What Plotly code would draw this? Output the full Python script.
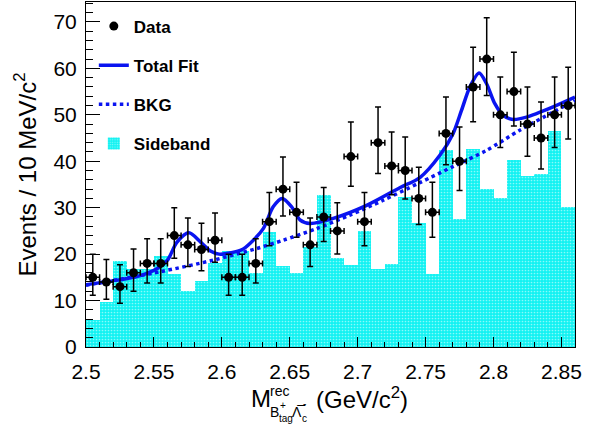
import numpy as np
import plotly.graph_objects as go

# ---------------- data ----------------
bin_centers = [2.505, 2.515, 2.525, 2.535, 2.545, 2.555, 2.565, 2.575, 2.585, 2.595,
               2.605, 2.615, 2.625, 2.635, 2.645, 2.655, 2.665, 2.675, 2.685, 2.695,
               2.705, 2.715, 2.725, 2.735, 2.745, 2.755, 2.765, 2.775, 2.785, 2.795,
               2.805, 2.815, 2.825, 2.835, 2.845, 2.855]
data_counts = [15, 14, 13, 16, 18, 18, 24, 22, 21, 23, 15, 15, 18, 27, 34, 29, 22, 28,
               25, 41, 27, 44, 39, 38, 32, 29, 46, 40, 56, 62, 50, 55, 48, 45, 50, 52]
sideband = [5.9, 9.7, 18.5, 16.7, 16.7, 19.7, 15.7, 12.1, 14.2, 18.0, 20.6, 20.6,
            16.0, 24.8, 17.4, 16.0, 21.5, 32.7, 19.2, 17.7, 24.9, 16.9, 17.9, 32.2,
            26.6, 15.8, 42.5, 27.6, 42.7, 34.0, 32.0, 40.2, 36.8, 37.2, 46.5, 30.2]

fit_x = [2.500, 2.523, 2.538, 2.5525, 2.560, 2.567, 2.5758, 2.5844, 2.592, 2.598,
         2.607, 2.615, 2.6207, 2.6305, 2.6378, 2.6444, 2.6514, 2.6575, 2.665, 2.682,
         2.7066, 2.731, 2.7458, 2.7605, 2.7703, 2.7765, 2.7826, 2.7894, 2.7949, 2.801,
         2.8071, 2.8144, 2.8243, 2.8439, 2.860]
fit_y = [13.4, 14.4, 15.2, 16.9, 18.7, 22.6, 24.6, 22.6, 20.6, 20.0,
         20.3, 21.0, 22.3, 25.5, 30.2, 32.0, 30.2, 27.4, 26.6, 27.7,
         30.5, 34.3, 36.5, 41.3, 46.0, 51.0, 56.0, 59.0, 56.7, 52.4,
         49.9, 49.0, 49.5, 51.7, 53.8]

bkg_x = [2.500, 2.5545, 2.5937, 2.6256, 2.6452, 2.6698, 2.6943, 2.7188, 2.7458,
         2.7705, 2.7946, 2.8194, 2.8439, 2.860]
bkg_y = [13.3, 16.2, 18.7, 21.2, 23.0, 25.5, 28.4, 31.6, 35.4,
         38.9, 42.3, 46.7, 50.6, 53.1]

x_tickvals = [2.5, 2.55, 2.6, 2.65, 2.7, 2.75, 2.8, 2.85]
x_ticktext = ["2.5", "2.55", "2.6", "2.65", "2.7", "2.75", "2.8", "2.85"]
y_tickvals = [0, 10, 20, 30, 40, 50, 60, 70]

# Poisson (approximate Garwood) error bars
counts = np.array(data_counts, dtype=float)
err_up = np.sqrt(counts + 0.75) + 1.0
err_dn = np.sqrt(counts - 0.25)

FONT = "Liberation Sans, Arial, Helvetica, sans-serif"
BLUE = "#0a14f0"

fig = go.Figure()

fig.add_trace(go.Bar(
    x=bin_centers, y=sideband, width=0.01, name="Sideband",
    legendgroup="d", legendrank=4,
    marker=dict(color="#12F2F2", line=dict(width=0),
                pattern=dict(shape=".", fgcolor="white", size=3, solidity=0.25)),
))
fig.add_trace(go.Scatter(
    x=bkg_x, y=bkg_y, mode="lines", name="BKG", legendgroup="c", legendrank=3,
    line=dict(color=BLUE, width=3.5, dash="dot", shape="spline", smoothing=0.8),
))
fig.add_trace(go.Scatter(
    x=fit_x, y=fit_y, mode="lines", name="Total Fit", legendgroup="b", legendrank=2,
    line=dict(color=BLUE, width=3.5, shape="spline", smoothing=0.8),
))
fig.add_trace(go.Scatter(
    x=bin_centers, y=data_counts, mode="markers", name="Data", legendgroup="a", legendrank=1,
    marker=dict(color="black", size=9),
    error_y=dict(type="data", symmetric=False, array=err_up, arrayminus=err_dn,
                 color="black", thickness=1.5, width=3),
    error_x=dict(type="constant", value=0.005, color="black", thickness=1.5, width=3),
))

axis_common = dict(showline=True, mirror=True, linecolor="black", linewidth=1,
                   showgrid=False, zeroline=False, ticks="inside", tickcolor="black",
                   tickfont=dict(family=FONT, size=21, color="black"))

fig.update_layout(
    width=603, height=430,
    margin=dict(l=86, r=28, t=2, b=83),
    paper_bgcolor="white", plot_bgcolor="white",
    bargap=0,
    font=dict(family=FONT, color="black"),
    showlegend=True,
    legend=dict(x=0.016, y=0.981, xanchor="left", yanchor="top",
                bgcolor="rgba(0,0,0,0)", tracegroupgap=14,
                font=dict(family=FONT, size=17, color="black", weight="bold"),
                itemwidth=30),
    xaxis=dict(range=[2.5, 2.86], tickmode="array", tickvals=x_tickvals, ticktext=x_ticktext,
               ticklen=10, ticklabelstandoff=6,
               minor=dict(ticks="inside", ticklen=5, dtick=0.01, tickcolor="black"),
               **axis_common),
    yaxis=dict(range=[0, 74.3], tickmode="array", tickvals=y_tickvals,
               ticklen=14, ticklabelstandoff=4,
               minor=dict(ticks="inside", ticklen=7, dtick=2, tickcolor="black"),
               title=dict(text="Events / 10 MeV/c<sup>2</sup>", standoff=10,
                          font=dict(family=FONT, size=24, color="black")),
               **axis_common),
)

# x-axis title built from pieces (stacked super/subscripts as in the reference)
def P(px, py):
    return (px - 86) / 489.0, (347 - py) / 345.0

title_parts = [
    ("M", 249, 398, 24, "left"),
    ("rec", 268, 391, 14, "left"),
    ("B", 268, 412, 14, "left"),
    ("+", 278, 405, 10, "left"),
    ("tag", 277, 418, 10, "left"),
    ("\u039b\u0305", 290, 412, 14, "left"),
    ("-", 301, 403, 10, "left"),
    ("c", 300, 418, 10, "left"),
    ("(GeV/c<sup>2</sup>)", 314, 398, 24, "left"),
]
for txt, px, py, size, anchor in title_parts:
    xp, yp = P(px, py)
    fig.add_annotation(text=txt, x=xp, y=yp, xref="paper", yref="paper",
                       xanchor=anchor, yanchor="middle", showarrow=False,
                       font=dict(family=FONT, size=size, color="black"))

fig.write_html("out.html", config={"displayModeBar": False},
               post_script="document.body.style.margin='0';document.body.style.padding='0';")
